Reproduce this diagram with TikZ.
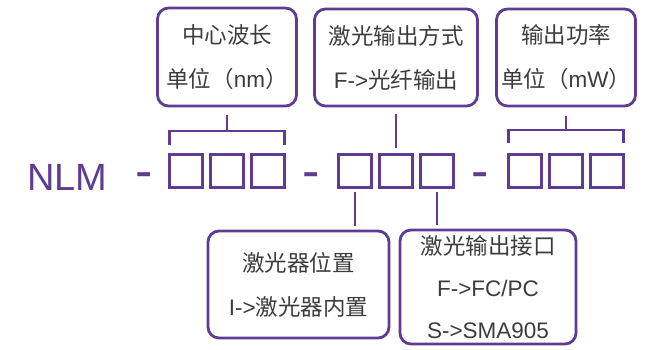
\documentclass[tikz,border=0pt]{standalone}
\usepackage{fontspec}
\setmainfont{Liberation Sans}
\newfontfamily\cjk{Noto Sans CJK SC}
\usepackage{xcolor}
\usetikzlibrary{calc}
\definecolor{NLMPurple}{RGB}{94,60,146}
\definecolor{TextGray}{RGB}{60,60,60}

\begin{document}
\begin{tikzpicture}[x=1pt,y=1pt,
        info/.style = {draw=NLMPurple,
            line width=2.8pt,
            rounded corners=11pt,
            align=center,
            text=TextGray,
            inner sep=0pt, outer sep=0pt,
            font=\fontsize{22.5}{44}\selectfont},
        digit/.style = {draw=NLMPurple,
            line width=3pt,
            minimum size=33pt,
            inner sep=0pt, outer sep=0pt},
        bar/.style = {NLMPurple, line width=2.8pt}]

        \useasboundingbox (0,0) rectangle (651,349);

        % Model name
        \node[anchor=base west, inner sep=0pt, text=NLMPurple,
            font=\fontsize{38}{38}\selectfont] (nlm) at (27,159) {NLM};

        % Separators
        \foreach \x/\n in {144/s1, 311.5/s2, 480.5/s3}
            \node[anchor=base, inner sep=0pt, text=NLMPurple,
                font=\fontsize{52}{52}\selectfont] (\n) at (\x,161) {-};

        % Code squares
        \foreach \i in {1,2,3} {
            \node[digit] (c\i) at ({186+41*(\i-1)},178.5) {};
            \node[digit] (p\i) at ({355+41*(\i-1)},178.5) {};
            \node[digit] (w\i) at ({525+41*(\i-1)},178.5) {};
        }

        % Upper boxes
        \node[info, minimum width=139pt, minimum height=98pt] (wave) at (227,292) {{\cjk 中心波长}\\{\cjk 单位（}nm{\cjk ）}};
        \node[info, minimum width=163pt, minimum height=97pt] (mode) at (396,291.5) {{\cjk 激光输出方式}\\F->{\cjk 光纤输出}};
        \node[info, minimum width=139pt, minimum height=97pt] (power) at (566,291.5) {{\cjk 输出功率}\\{\cjk 单位（}mW{\cjk ）}};

        % Lower boxes
        \node[info, minimum width=181pt, minimum height=107pt] (place) at (298.5,64.5) {{\cjk 激光器位置}\\I->{\cjk 激光器内置}};
        \node[info, minimum width=176pt, minimum height=114pt,
            font=\fontsize{22.5}{42}\selectfont] (port) at (488,62) {{\cjk 激光输出接口}\\F->FC/PC\\S->SMA905};

        % Wavelength bracket
        \draw[bar] ([yshift=9pt]c1.north west) -- ++(0,14) -| ([yshift=9pt]c3.north east);
        \draw[bar] ([yshift=23pt]c2.north) -- ([yshift=-9pt]wave.south);

        % Output mode line
        \draw[bar] ([yshift=6pt]p2.north) -- ([yshift=-8pt]mode.south);

        % Power bracket
        \draw[bar] ([yshift=11pt]w1.north west) -- ++(0,13) -| ([yshift=11pt]w3.north east);
        \draw[bar] ([yshift=24pt]w2.north) -- ([yshift=-10pt]power.south);

        % Lower lines
        \draw[bar] ([yshift=-5pt]p1.south) -- ($(p1.south |- place.north)+(0,5)$);
        \draw[bar] ([yshift=-5pt]p3.south) -- ($(p3.south |- port.north)+(0,5)$);

    \end{tikzpicture}
\end{document}
